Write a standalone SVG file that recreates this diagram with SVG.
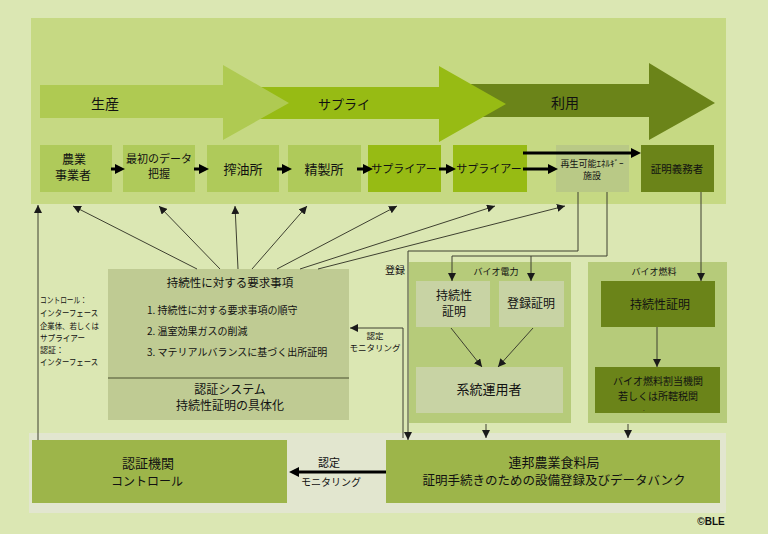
<svg xmlns="http://www.w3.org/2000/svg" width="768" height="534" viewBox="0 0 768 534">
<defs>
<style>
text{font-family:"Noto Sans CJK JP","Noto Sans CJK SC",sans-serif;fill:#111;}
.c{text-anchor:middle;}
.t14{font-size:14px;}
.t13{font-size:13px;}
.t12{font-size:12px;}
.t11{font-size:11px;}
.t10{font-size:10px;}
.t9{font-size:9px;}
.t8{font-size:8.5px;}
.thin{fill:none;stroke:#3e4030;stroke-width:1;}
.thick{fill:none;stroke:#000;stroke-width:3;}
</style>
<marker id="ah" markerUnits="userSpaceOnUse" markerWidth="8" markerHeight="8" refX="8" refY="4" orient="auto">
<path d="M0,0 L8,4 L0,8 z" fill="#1a1a1a"/>
</marker>
<marker id="ahb" markerUnits="userSpaceOnUse" markerWidth="10" markerHeight="10" refX="1" refY="5" orient="auto">
<path d="M0,0 L10,5 L0,10 z" fill="#000"/>
</marker>
</defs>
<rect x="0" y="0" width="768" height="534" fill="#dbe7b3"/>
<rect x="31" y="18" width="695" height="186" fill="#c6d983"/>
<rect x="29" y="433" width="697" height="80" fill="#e2e6cf"/>

<g id="phase-arrows">
<polygon points="471,84 649,84 649,63 715,103 649,140 649,117 471,117" fill="#6b8419"/>
<polygon points="260,87 439,87 439,66 506,104 439,142 439,119 260,119" fill="#97bb14"/>
<polygon points="40,85 223,85 223,65 289,103 223,140 223,118 40,118" fill="#afca52"/>
<text x="105" y="109" class="c t14">生産</text>
<text x="344" y="109" class="c t13">サプライ</text>
<text x="565" y="108" class="c t14">利用</text>
</g>

<g id="n-farmer"><rect x="40" y="145" width="72" height="47" fill="#afca5a"/><text x="74" y="164" class="c t12">農業</text><text x="73" y="180" class="c t12">事業者</text></g>
<g id="n-data"><rect x="123" y="145" width="72" height="47" fill="#afca5a"/><text x="159" y="163" class="c t11">最初のデータ</text><text x="159" y="178" class="c t11">把握</text></g>
<g id="n-oilmill"><rect x="207" y="145" width="72" height="47" fill="#afca5a"/><text x="243" y="174" class="c t13">搾油所</text></g>
<g id="n-refinery"><rect x="288" y="145" width="73" height="47" fill="#afca5a"/><text x="324" y="174" class="c t13">精製所</text></g>
<g id="n-supplier1"><rect x="368" y="145" width="73" height="47" fill="#97bb14"/><text x="404" y="173" class="c t11">サプライアー</text></g>
<g id="n-supplier2"><rect x="453" y="145" width="74" height="47" fill="#97bb14"/><text x="489" y="173" class="c t11">サプライアー</text></g>
<g id="n-plant"><rect x="556" y="145" width="73" height="47" fill="#b9c986"/><text x="592" y="167" class="c t9">再生可能ｴﾈﾙｷﾞｰ</text><text x="592" y="179" class="c t9">施設</text></g>
<g id="n-obligated"><rect x="641" y="145" width="73" height="47" fill="#6b8419"/><text x="677" y="173" class="c" style="font-size:10.5px">証明義務者</text></g>

<g id="n-requirements">
<rect x="108" y="269" width="241" height="151" fill="#bfcb93"/>
<text x="230" y="287" class="c" style="font-size:11.5px">持続性に対する要求事項</text>
<text x="147" y="314" class="t10">1. 持続性に対する要求事項の順守</text>
<text x="147" y="335" class="t10">2. 温室効果ガスの削減</text>
<text x="147" y="356" class="t10">3. マテリアルバランスに基づく出所証明</text>
<line x1="108" y1="378" x2="349" y2="378" stroke="#4a5030" stroke-width="1.2"/>
<text x="230" y="394" class="c t12">認証システム</text>
<text x="230" y="410" class="c t12">持続性証明の具体化</text>
</g>

<g id="n-left-note">
<text x="40" y="303" class="t8" textLength="47" lengthAdjust="spacingAndGlyphs">コントロール：</text>
<text x="40" y="316" class="t8" textLength="58" lengthAdjust="spacingAndGlyphs">インターフェース</text>
<text x="40" y="329" class="t8" textLength="59" lengthAdjust="spacingAndGlyphs">企業体、若しくは</text>
<text x="40" y="341" class="t8" textLength="45" lengthAdjust="spacingAndGlyphs">サプライアー</text>
<text x="40" y="353" class="t8" textLength="24" lengthAdjust="spacingAndGlyphs">認証：</text>
<text x="40" y="365" class="t8" textLength="58" lengthAdjust="spacingAndGlyphs">インターフェース</text>
</g>

<g id="n-biopower">
<rect x="409" y="262" width="162" height="161" fill="#b6cb7a"/>
<text x="496" y="275" class="c t9">バイオ電力</text>
<rect x="416" y="281" width="74" height="46" fill="#c8d3a4"/>
<text x="454" y="300" class="c t12">持続性</text>
<text x="454" y="316" class="c t12">証明</text>
<rect x="499" y="281" width="65" height="46" fill="#c8d3a4"/>
<text x="531" y="308" class="c t12">登録証明</text>
<rect x="416" y="367" width="147" height="46" fill="#c8d3a4"/>
<text x="489" y="394" class="c t13">系統運用者</text>
</g>

<g id="n-biofuel">
<rect x="588" y="262" width="139" height="161" fill="#b6cb7a"/>
<text x="654" y="275" class="c t9">バイオ燃料</text>
<rect x="601" y="281" width="114" height="46" fill="#6b8419"/>
<text x="660" y="309" class="c t12">持続性証明</text>
<rect x="595" y="367" width="125" height="46" fill="#6b8419"/>
<text x="658" y="385" class="c t10">バイオ燃料割当機関</text>
<text x="658" y="400" class="c t10">若しくは所轄税関</text>
<text x="643" y="411" style="font-size:6px">.</text>
</g>

<g id="n-certbody"><rect x="32" y="440" width="255" height="63" fill="#9db54a"/><text x="148" y="468" class="c t13">認証機関</text><text x="147" y="486" class="c t12">コントロール</text></g>
<g id="n-ble"><rect x="386" y="440" width="334" height="63" fill="#9db54a"/><text x="554" y="467" class="c t13">連邦農業食料局</text><text x="554" y="485" class="c" style="font-size:12.5px">証明手続きのための設備登録及びデータバンク</text></g>

<g id="connectors">
<path class="thick" d="M111,169 H116" marker-end="url(#ahb)"/>
<path class="thick" d="M194,169 H200" marker-end="url(#ahb)"/>
<path class="thick" d="M277,169 H283" marker-end="url(#ahb)"/>
<path class="thick" d="M357,169 H364" marker-end="url(#ahb)"/>
<path class="thick" d="M439,169 H447" marker-end="url(#ahb)"/>
<path class="thick" d="M523,169 H549" marker-end="url(#ahb)"/>
<path class="thick" d="M523,153 H632" marker-end="url(#ahb)"/>
<path class="thick" d="M386,472 H298" marker-end="url(#ahb)"/>

<path class="thin" d="M38,440 V205" marker-end="url(#ah)"/>
<path class="thin" d="M197,269 L73,206" marker-end="url(#ah)"/>
<path class="thin" d="M220,269 L159,206" marker-end="url(#ah)"/>
<path class="thin" d="M238,269 L235,206" marker-end="url(#ah)"/>
<path class="thin" d="M252,269 L307,206" marker-end="url(#ah)"/>
<path class="thin" d="M277,269 L397,206" marker-end="url(#ah)"/>
<path class="thin" d="M300,269 L495,206" marker-end="url(#ah)"/>
<path class="thin" d="M318,269 L565,206" marker-end="url(#ah)"/>

<path class="thin" d="M578,192 V251 H408 V440" marker-end="url(#ah)"/>
<path class="thin" d="M607,192 V256 H452 V281" marker-end="url(#ah)"/>
<path class="thin" d="M531,256 V281" marker-end="url(#ah)"/>
<path class="thin" d="M701,192 V281" marker-end="url(#ah)"/>
<path class="thin" d="M403,438 V328 H350" marker-end="url(#ah)"/>
<path class="thin" d="M451,328 L482,367" marker-end="url(#ah)"/>
<path class="thin" d="M533,328 L498,367" marker-end="url(#ah)"/>
<path class="thin" d="M657,327 V367" marker-end="url(#ah)"/>
<path class="thin" d="M486,424 V438" marker-end="url(#ah)"/>
<path class="thin" d="M628,424 V438" marker-end="url(#ah)"/>

<text x="395" y="274" class="c t10">登録</text>
<text x="375" y="339" class="c t8">認定</text>
<text x="375" y="351" class="c t8">モニタリング</text>
<text x="329" y="467" class="c t11">認定</text>
<text x="331" y="486" class="c t10">モニタリング</text>
</g>
<text x="711" y="525" class="c t10" style="font-family:'Liberation Sans Narrow','Liberation Sans',sans-serif;font-weight:bold">©BLE</text>
</svg>
